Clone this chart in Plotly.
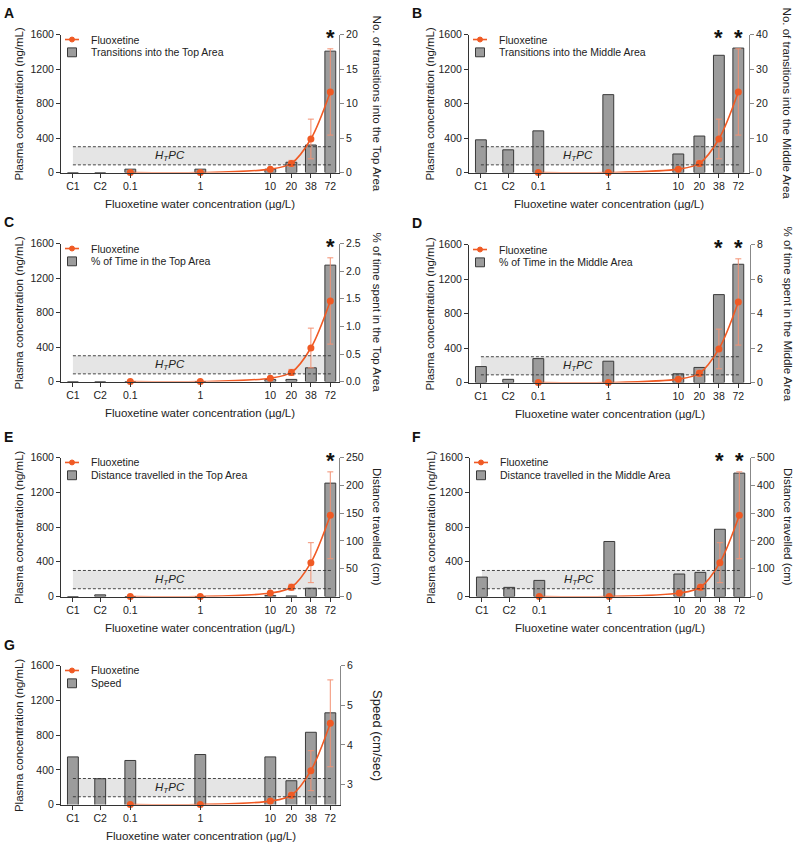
import math
import plotly.graph_objects as go

# ---------------- data ----------------
x_labels = ["C1", "C2", "0.1", "1", "10", "20", "38", "72"]
water_conc = [0.1, 1, 10, 20, 38, 72]          # treated groups (µg/L)
plasma_mean = [0, 0, 40, 107, 390, 935]         # ng/mL
plasma_err = [0, 0, 10, 35, 230, 500]

transitions_top = [0, 0, 0.5, 0.5, 0.5, 1.5, 4.0, 17.6]
transitions_middle = [9.5, 6.6, 12.1, 22.6, 5.4, 10.6, 34.0, 36.1]
time_top = [0, 0, 0, 0, 0.04, 0.04, 0.25, 2.11]
time_middle = [0.93, 0.19, 1.39, 1.24, 0.51, 0.88, 5.1, 6.86]
dist_top = [0, 3, 0, 0, 2, 1, 15, 204]
dist_middle = [70, 33, 58, 198, 81, 87, 242, 444]
speed = [3.7, 3.15, 3.61, 3.76, 3.7, 3.1, 4.32, 4.81]

htpc_low, htpc_high = 90, 300

panels = [
    dict(letter="A", bars=transitions_top, name="Transitions into the Top Area",
         ytitle="No. of transitions into the Top Area", yrange=[0, 20], tickvals=[0, 5, 10, 15, 20], fmt="", stars=["72"]),
    dict(letter="B", bars=transitions_middle, name="Transitions into the Middle Area",
         ytitle="No. of transitions into the Middle Area", yrange=[0, 40], tickvals=[0, 10, 20, 30, 40], fmt="", stars=["38", "72"]),
    dict(letter="C", bars=time_top, name="% of Time in the Top Area",
         ytitle="% of time spent in the Top Area", yrange=[0, 2.5], tickvals=[0, 0.5, 1, 1.5, 2, 2.5], fmt=".1f", stars=["72"]),
    dict(letter="D", bars=time_middle, name="% of Time in the Middle Area",
         ytitle="% of time spent in the Middle Area", yrange=[0, 8], tickvals=[0, 2, 4, 6, 8], fmt="", stars=["38", "72"]),
    dict(letter="E", bars=dist_top, name="Distance travelled in the Top Area",
         ytitle="Distance travelled (cm)", yrange=[0, 250], tickvals=[0, 50, 100, 150, 200, 250], fmt="", stars=["72"]),
    dict(letter="F", bars=dist_middle, name="Distance travelled in the Middle Area",
         ytitle="Distance travelled (cm)", yrange=[0, 500], tickvals=[0, 100, 200, 300, 400, 500], fmt="", stars=["38", "72"]),
    dict(letter="G", bars=speed, name="Speed",
         ytitle="Speed (cm/sec)", yrange=[2.5, 6], tickvals=[3, 4, 5, 6], fmt="", stars=[]),
]

# ---------------- layout geometry (pixels) ----------------
W, H = 797, 850
geom = [
    (61, 339, 29, 169),
    (469, 749, 29, 169),
    (61, 339, 241, 381),
    (469, 750, 242, 382),
    (61, 339, 458, 599),
    (470, 750, 458, 599),
    (61, 340, 669, 810),
]
CONTROL_POS = {"C1": -1.82, "C2": -1.43}
PX_PER_DECADE = 70.0
FONT = "Arial, Liberation Sans, Helvetica, sans-serif"
ORANGE = "#f05a24"
ERR = "#f39274"
BAR = "#9c9c9c"
BAR_LINE = "#3a3a3a"


def px(x):
    return x / W


def py(y):
    return 1 - y / H


positions = [CONTROL_POS[c] if c in CONTROL_POS else math.log10(float(c)) for c in x_labels]
treated_pos = [math.log10(c) for c in water_conc]

fig = go.Figure()
layout = dict(
    width=W, height=H, margin=dict(l=0, r=0, t=0, b=0),
    paper_bgcolor="white", plot_bgcolor="rgba(0,0,0,0)",
    showlegend=False, font=dict(family=FONT, size=10, color="#222"),
)
shapes, annotations = [], []


def ann(**kw):
    kw.setdefault("showarrow", False)
    kw.setdefault("xanchor", "center")
    kw.setdefault("yanchor", "middle")
    annotations.append(kw)


for i, (p, (x0, x1, y0, y1)) in enumerate(zip(panels, geom), start=1):
    xref = "x" if i == 1 else f"x{i}"
    xname = "xaxis" if i == 1 else f"xaxis{i}"
    nb, nl = 2 * i - 1, 2 * i
    yb_ref = "y" if nb == 1 else f"y{nb}"
    yb_name = "yaxis" if nb == 1 else f"yaxis{nb}"
    yl_ref, yl_name = f"y{nl}", f"yaxis{nl}"

    fig.add_trace(go.Bar(
        x=positions, y=p["bars"], width=0.155, xaxis=xref, yaxis=yb_ref,
        marker=dict(color=BAR, line=dict(color=BAR_LINE, width=1)), name=p["name"]))
    fig.add_trace(go.Scatter(
        x=treated_pos, y=plasma_mean, xaxis=xref, yaxis=yl_ref, mode="lines+markers",
        line=dict(color=ORANGE, width=1.6, shape="spline", smoothing=0.9),
        marker=dict(color=ORANGE, size=7),
        error_y=dict(type="data", array=plasma_err, color=ERR, thickness=1, width=3),
        cliponaxis=False, name="Fluoxetine"))

    xr0 = -1.99
    layout[xname] = dict(
        domain=[px(x0), px(x1)], range=[xr0, xr0 + (x1 - x0) / PX_PER_DECADE],
        tickvals=positions, ticktext=x_labels, ticks="outside", ticklen=4, tickcolor="#333",
        showline=True, linecolor="#333", linewidth=1, showgrid=False, zeroline=False,
        anchor=yb_ref, tickfont=dict(size=10.5, color="#222"), fixedrange=True)
    layout[yb_name] = dict(
        domain=[py(y1), py(y0)], range=p["yrange"], side="right", anchor=xref,
        tickvals=p["tickvals"], tickformat=p["fmt"], ticks="outside", ticklen=4, tickcolor="#888",
        showline=True, linecolor="#888", linewidth=1, showgrid=False, zeroline=False,
        tickfont=dict(size=10.5, color="#222"))
    layout[yl_name] = dict(
        overlaying=yb_ref, side="left", anchor=xref, range=[0, 1600],
        tickvals=[0, 400, 800, 1200, 1600], ticks="outside", ticklen=4, tickcolor="#333",
        showline=True, linecolor="#333", linewidth=1, showgrid=False, zeroline=False,
        tickfont=dict(size=10.5, color="#222"))

    # HTPC band
    shapes.append(dict(type="rect", xref=xref, yref=yl_ref, x0=positions[0], x1=positions[-1] + 0.03,
                       y0=htpc_low, y1=htpc_high, fillcolor="#e5e5e5", line=dict(width=0), layer="below"))
    for yv in (htpc_low, htpc_high):
        shapes.append(dict(type="line", xref=xref, yref=yl_ref, x0=positions[0], x1=positions[-1] + 0.03,
                           y0=yv, y1=yv, line=dict(color="#333", width=0.9, dash="3px,2px"), layer="above"))
    ann(x=-0.43, y=(htpc_low + htpc_high) / 2, xref=xref, yref=yl_ref,
        text="<i>H<sub>T</sub>PC</i>", font=dict(size=11.5, color="#222"))

    # significance stars
    for s in p["stars"]:
        ann(x=positions[x_labels.index(s)], y=py(y0 - 12), xref=xref, yref="paper",
            text="<b>*</b>", yanchor="top", font=dict(size=22, color="#111"))

    # panel letter
    lx = 2 if x0 < 400 else 410
    ann(x=px(lx), y=py(y0 - 22 if i < 5 else y0 - 21), xref="paper", yref="paper",
        text=f"<b>{p['letter']}</b>", xanchor="left", font=dict(size=14, color="#111"))

    # axis titles
    lt_x = x0 - 42 if x0 < 400 else x0 - 39
    ann(x=px(lt_x), y=py((y0 + y1) / 2), xref="paper", yref="paper",
        text="Plasma concentration (ng/mL)", textangle=-90, font=dict(size=11.5, color="#222"))
    rfs = 13 if p["letter"] == "G" else 11.5
    ann(x=px(x1 + 38), y=py((y0 + y1) / 2), xref="paper", yref="paper",
        text=p["ytitle"], textangle=90, font=dict(size=rfs, color="#222"))
    ann(x=px((x0 + x1) / 2), y=py(y1 + 32), xref="paper", yref="paper",
        text="Fluoxetine water concentration (µg/L)", font=dict(size=11.5, color="#222"))

    # legend (manual, tight spacing like original)
    ly1, ly2 = y0 + 5, y0 + 18
    shapes.append(dict(type="line", xref="paper", yref="paper", x0=px(x0 + 4), x1=px(x0 + 18),
                       y0=py(ly1), y1=py(ly1), line=dict(color=ORANGE, width=1.6)))
    shapes.append(dict(type="circle", xref="paper", yref="paper", x0=px(x0 + 8.5), x1=px(x0 + 13.5),
                       y0=py(ly1 - 2.5), y1=py(ly1 + 2.5), fillcolor=ORANGE, line=dict(color=ORANGE, width=1)))
    shapes.append(dict(type="rect", xref="paper", yref="paper", x0=px(x0 + 6.5), x1=px(x0 + 15.5),
                       y0=py(ly2 - 4.5), y1=py(ly2 + 4.5), fillcolor=BAR, line=dict(color=BAR_LINE, width=1)))
    ann(x=px(x0 + 28), y=py(ly1), xref="paper", yref="paper", text="Fluoxetine",
        xanchor="left", font=dict(size=10.5, color="#222"))
    ann(x=px(x0 + 28), y=py(ly2), xref="paper", yref="paper", text=p["name"],
        xanchor="left", font=dict(size=10.5, color="#222"))

layout["shapes"] = shapes
layout["annotations"] = annotations
fig.update_layout(**layout)
fig.write_html("out.html", config={"displayModeBar": False},
               post_script="document.body.style.margin='0px';document.body.style.overflow='hidden';")
